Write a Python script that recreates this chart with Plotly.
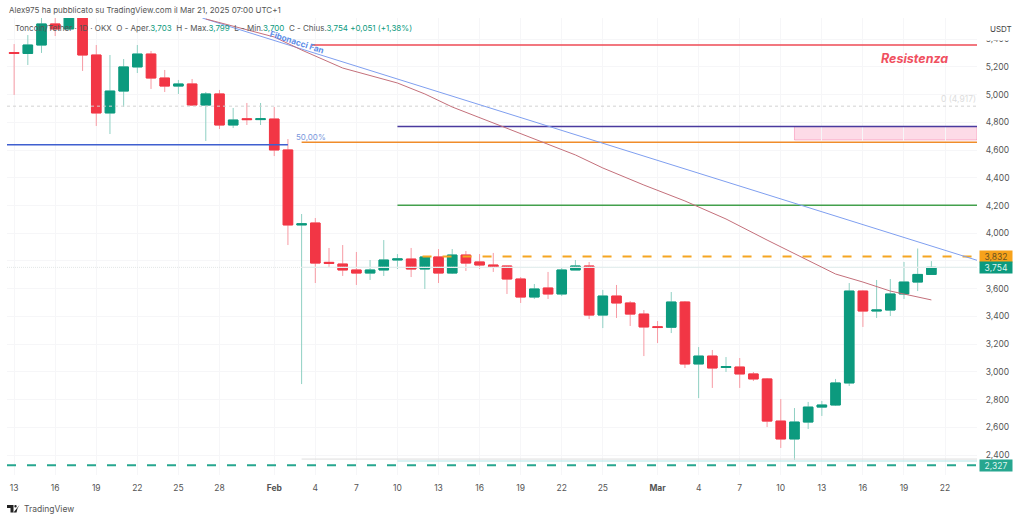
# Toncoin/Tether daily chart, TradingView look
import numpy as np
import pandas as pd
import plotly.graph_objects as go

dates = pd.date_range("2025-01-13", "2025-03-21", freq="D")

opens = [5304, 5297, 5358, 5510, 5474, 5600, 5286, 4868, 5026, 5200, 5293, 5120, 5062, 5077, 4925, 5005, 4781, 4826, 4820,
         4824, 4601, 4060, 4074, 3790, 3778, 3735, 3713, 3735, 3807, 3814, 3742, 3829, 3713, 3843, 3793, 3771, 3764, 3670, 3540, 3605, 3562, 3735, 3764, 3410, 3547, 3497, 3417, 3326,
         3322, 3504, 3057, 3114, 3032, 3035, 2985, 2949, 2645, 2516, 2638, 2746, 2761, 2920, 3583, 3439, 3446, 3562, 3648, 3703]
highs = [5365, 5430, 5560, 5553, 5650, 5650, 5358, 5286, 5257, 5358, 5315, 5178, 5106, 5113, 5019, 5034, 4904, 4940, 4940,
         4911, 4680, 4139, 4110, 3894, 3915, 3865, 3807, 3951, 3850, 3894, 3829, 3886, 3886, 3872, 3850, 3858, 3764, 3684, 3634, 3721, 3749, 3807, 3793, 3591, 3627, 3511, 3446, 3367,
         3576, 3511, 3179, 3158, 3107, 3100, 2999, 2956, 2804, 2739, 2783, 2790, 2949, 3641, 3588, 3663, 3670, 3793, 3890, 3799]
lows = [4998, 5214, 5301, 5423, 5467, 5171, 4774, 4716, 4911, 5156, 5041, 5019, 5005, 4925, 4666, 4752, 4759, 4781, 4781,
        4557, 3915, 2912, 3641, 3749, 3692, 3627, 3663, 3692, 3742, 3684, 3598, 3641, 3706, 3728, 3742, 3721, 3562, 3497, 3526, 3526, 3547, 3735, 3381, 3316, 3389, 3331, 3114, 3208,
        3280, 3028, 2811, 2884, 2999, 2884, 2934, 2602, 2451, 2364, 2588, 2682, 2755, 2898, 3324, 3389, 3403, 3526, 3583, 3700]
closes = [5297, 5358, 5510, 5474, 5600, 5286, 4868, 5026, 5200, 5293, 5120, 5062, 5077, 4925, 5005, 4781, 4817, 4820, 4826,
          4601, 4060, 4068, 3785, 3783, 3735, 3713, 3735, 3807, 3815, 3742, 3829, 3713, 3843, 3785, 3771, 3757, 3670, 3540, 3598, 3562, 3735, 3764, 3410, 3547, 3497, 3417, 3324, 3320,
          3504, 3057, 3114, 3028, 3038, 2985, 2949, 2645, 2516, 2638, 2746, 2761, 2920, 3583, 3439, 3446, 3562, 3648, 3703, 3754]

# moving average
ma_dates = ["2025-01-27", "2025-02-01", "2025-02-03", "2025-02-06", "2025-02-10", "2025-02-12", "2025-02-14", "2025-02-17", "2025-02-20", "2025-02-23", "2025-02-25",
            "2025-02-28", "2025-03-03", "2025-03-06", "2025-03-09", "2025-03-12", "2025-03-14", "2025-03-16", "2025-03-18", "2025-03-21"]
ma_values = [5546, 5416, 5322, 5192, 5084, 5005, 4911, 4796, 4680, 4565, 4471, 4348, 4233, 4103, 3951, 3807, 3706, 3648, 3583, 3519]

# fibonacci fan line
fan_dates = ["2025-01-26 18:00", "2025-03-24 08:00"]
fan_values = [5553, 3805]

tick_dates = ["2025-01-13", "2025-01-16", "2025-01-19", "2025-01-22", "2025-01-25", "2025-01-28", "2025-02-01", "2025-02-04", "2025-02-07", "2025-02-10", "2025-02-13", "2025-02-16",
              "2025-02-19", "2025-02-22", "2025-02-25", "2025-03-01", "2025-03-04", "2025-03-07", "2025-03-10", "2025-03-13", "2025-03-16", "2025-03-19", "2025-03-22"]
tick_labels = ["13", "16", "19", "22", "25", "28", "<b>Feb</b>", "4", "7", "10", "13", "16", "19", "22", "25", "<b>Mar</b>", "4", "7", "10", "13", "16", "19", "22"]
price_ticks = [2400, 2600, 2800, 3000, 3200, 3400, 3600, 3800, 4000, 4200, 4400, 4600, 4800, 5000, 5200, 5400]
price_labels = ["2,400", "2,600", "2,800", "3,000", "3,200", "3,400", "3,600", "3,800", "4,000", "4,200", "4,400", "4,600", "4,800", "5,000", "5,200", "5,400"]

x_start = "2025-01-12 11:30"
x_end = "2025-03-24 08:00"
y_range = [2256, 5553]

# horizontal levels: start, end, price, colour, width, dash
levels = [
    (x_start, x_end, 4917, "#d2d2d2", 1, "3px,3px"),
    (x_start, x_end, 3754, "#e2e6e6", 1, "1px,1px"),
    ("2025-02-03", x_end, 3754, "#e4eeee", 1.2, "solid"),
    ("2025-02-03", x_end, 2371, "#dddddd", 1, "solid"),
    ("2025-02-10", x_end, 2357, "#b5e3e6", 1, "solid"),
    ("2025-02-03 18:00", x_end, 5358, "#ee4a55", 1.5, "solid"),
    ("2025-02-10", x_end, 4770, "#4a3a9e", 1.5, "solid"),
    ("2025-02-03", x_end, 4656, "#f08c2a", 1.5, "solid"),
    (x_start, "2025-02-02", 4639, "#3f5fcf", 1.5, "solid"),
    ("2025-02-10", x_end, 4202, "#43a04c", 1.5, "solid"),
    ("2025-02-11 20:00", x_end, 3832, "#f5a623", 2, "9px,11px"),
    (x_start, x_end, 2327, "#26a68f", 2, "9px,11px"),
]

GREEN = "#0c9a7e"
RED = "#f23645"
FONT = "Inter"

fig = go.Figure()

for start, end, price, color, width, dash in levels:
    fig.add_trace(go.Scatter(x=[start, end], y=[price, price], mode="lines",
                             line=dict(color=color, width=width, dash=dash), hoverinfo="skip"))

fig.add_trace(go.Scatter(x=fan_dates, y=fan_values, mode="lines", line=dict(color="#7f9ff0", width=1), hoverinfo="skip"))
fig.add_trace(go.Scatter(x=ma_dates, y=ma_values, mode="lines", line=dict(color="#c4707b", width=1), hoverinfo="skip"))

# wicks are paler than the bodies so they go in a trace of their own
fig.add_trace(go.Candlestick(x=dates, open=opens, high=highs, low=lows, close=closes,
                             increasing=dict(line=dict(color="#8fd0c3", width=1), fillcolor="#8fd0c3"),
                             decreasing=dict(line=dict(color="#f79aa3", width=1), fillcolor="#f79aa3"),
                             hoverinfo="skip"))
body_top = np.maximum(opens, closes)
body_bottom = np.minimum(opens, closes)
fig.add_trace(go.Candlestick(x=dates, open=opens, high=body_top, low=body_bottom, close=closes,
                             increasing=dict(line=dict(color=GREEN, width=1), fillcolor=GREEN),
                             decreasing=dict(line=dict(color=RED, width=1), fillcolor=RED),
                             hoverinfo="skip"))


def note(text, x, y, size=8, color="#444444", **kw):
    # x, y in pixels of the page
    fig.add_annotation(text=text, x=(x - 7) / 970, y=(475 - y) / 457, xref="paper", yref="paper", showarrow=False,
                       xanchor=kw.pop("xanchor", "left"), yanchor="middle", font=dict(family=FONT, size=size, color=color), **kw)


def tag(text, price, bg, color):
    fig.add_annotation(text=text, x=1.0025, y=price, xref="paper", yref="y", showarrow=False, xanchor="left", yanchor="middle",
                       width=31, height=10, bgcolor=bg, borderpad=0.5, font=dict(family=FONT, size=8.5, color=color))


up = '<span style="color:#0c9a7e">%s</span>'
note("Alex975 ha pubblicato su TradingView.com il Mar 21, 2025 07:00 UTC+1", 7, 10, size=8, color="#555555")
note("Toncoin/Tether · 1D · OKX  O - Aper." + up % "3,703" + "  H - Max." + up % "3,799" + "  L - Min." + up % "3,700"
     + "  C - Chius." + up % "3,754" + " " + up % "+0,051 (+1,38%)", 13, 28, size=8, color="#555555")
note("<b><i>Resistenza</i></b>", 879, 58, size=12.5, color="#f0505f")
note("50,00%", 294, 137, size=8, color="#7a97dc")
note("0 (4,917)", 939, 99, size=8.5, color="#dddddd")
note("<b>Fibonacci Fan</b>", 297, 41.5, size=8.3, color="#5b8ce8", xanchor="center", textangle=18)
note("USDT", 988, 29, size=8, color="#444444")
note("TradingView", 22, 509, size=8.5, color="#555555")

tag("3,832", 3832, "#f7a21b", "#6b5320")
tag("3,754", 3754, GREEN, "#dff3ee")
tag("2,327", 2327, "#26a68f", "#dff3ee")

# pink zone
fig.add_shape(type="rect", x0="2025-03-11", x1=x_end, y0=4673, y1=4770, xref="x", yref="y",
              fillcolor="rgba(242,54,120,0.18)", line=dict(color="rgba(242,54,120,0.30)", width=1), layer="below")

# hides the top of the 5,400 label, under USDT
fig.add_shape(type="rect", x0=1.0005, x1=1.048, y0=(475 - 20) / 457, y1=(475 - 40.5) / 457, xref="paper", yref="paper",
              fillcolor="white", line_width=0, layer="above")

# TradingView logo
fig.add_shape(type="path", xref="paper", yref="paper", fillcolor="#222222", line_width=0,
              path="M %f %f L %f %f L %f %f L %f %f L %f %f L %f %f Z" % (
                  0.0, 30 / -457, 6.5 / 970, 30 / -457, 6.5 / 970, 37.5 / -457, 3.5 / 970, 37.5 / -457, 3.5 / 970, 33 / -457, 0.0, 33 / -457))
fig.add_shape(type="circle", xref="paper", yref="paper", fillcolor="#222222", line_width=0,
              x0=7.3 / 970, x1=9.7 / 970, y0=30 / -457, y1=32.4 / -457)
fig.add_shape(type="path", xref="paper", yref="paper", fillcolor="#222222", line_width=0,
              path="M %f %f L %f %f L %f %f L %f %f Z" % (
                  9.5 / 970, 37.5 / -457, 10.5 / 970, 33.5 / -457, 12.5 / 970, 30 / -457, 6.5 / 970, 37.5 / -457))

fig.update_layout(
    width=1024, height=520, margin=dict(l=7, r=47, t=18, b=45),
    paper_bgcolor="white", plot_bgcolor="white", showlegend=False,
    boxgap=0.3, boxgroupgap=0,
    xaxis=dict(type="date", range=[x_start, x_end], rangeslider=dict(visible=False), tickmode="array", tickvals=tick_dates, ticktext=tick_labels,
               showgrid=True, gridcolor="#f6f6f8", gridwidth=1, zeroline=False, showline=False, ticks="outside", ticklen=5, tickcolor="white",
               tickfont=dict(family=FONT, size=8.5, color="#555555")),
    yaxis=dict(side="right", range=y_range, tickmode="array", tickvals=price_ticks, ticktext=price_labels,
               showgrid=True, gridcolor="#f6f6f8", gridwidth=1, zeroline=False, showline=False, ticks="outside", ticklen=6, tickcolor="white",
               tickfont=dict(family=FONT, size=8.5, color="#555555")),
)

# the page's default body margin would shift everything by 8px
fig.write_html("out.html", post_script="document.body.style.margin='0';", config=dict(displayModeBar=False))
